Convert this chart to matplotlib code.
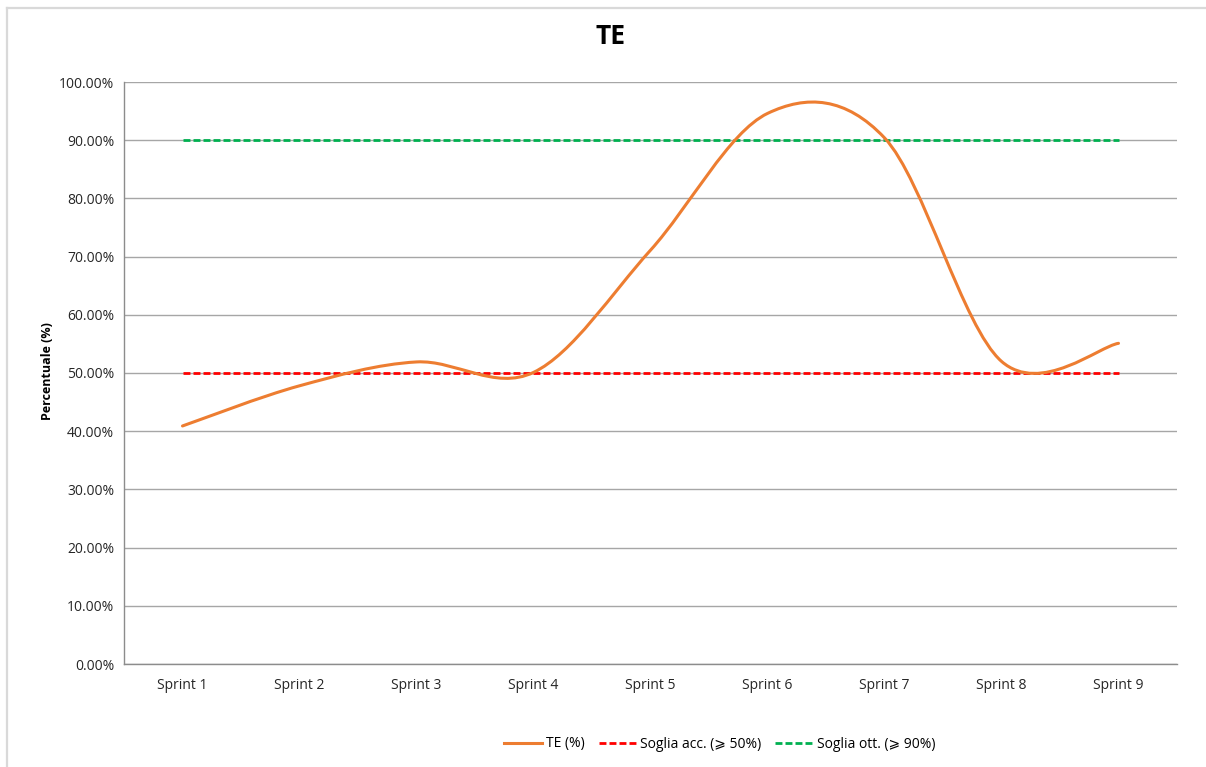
import matplotlib
matplotlib.use("Agg")
import matplotlib.pyplot as plt
from matplotlib.path import Path
from matplotlib.patches import PathPatch
from matplotlib.lines import Line2D
from matplotlib.ticker import FuncFormatter
import numpy as np

plt.rcParams['font.family'] = ['Open Sans', 'DejaVu Sans']

# Data
sprints = ["Sprint 1", "Sprint 2", "Sprint 3", "Sprint 4", "Sprint 5",
           "Sprint 6", "Sprint 7", "Sprint 8", "Sprint 9"]
te_values = [40.9, 47.8, 51.9, 50.1, 71.1, 94.6, 90.4, 52.0, 55.1]
soglia_acc = [50, 50, 50, 50, 50, 50, 50, 50, 50]
soglia_ott = [90, 90, 90, 90, 90, 90, 90, 90, 90]

ORANGE = '#ED7D31'
RED = '#FF0000'
GREEN = '#00B050'
GRID = '#a6a6a6'


# Excel-style smoothed line: cubic bezier through the points
def smooth_path(xs, ys):
    pts = np.column_stack([xs, ys]).astype(float)
    n = len(pts)
    verts = [pts[0]]
    codes = [Path.MOVETO]
    for i in range(n - 1):
        p_prev = pts[max(i - 1, 0)]
        p_next2 = pts[min(i + 2, n - 1)]
        c1 = pts[i] + (pts[i + 1] - p_prev) / 6.0
        c2 = pts[i + 1] - (p_next2 - pts[i]) / 6.0
        verts += [c1, c2, pts[i + 1]]
        codes += [Path.CURVE4] * 3
    return Path(verts, codes)


W, H = 1206, 767
fig = plt.figure(figsize=(W / 100, H / 100), dpi=100)
ax = fig.add_axes([124 / W, 1 - 664 / H, (1177 - 124) / W, (664 - 82) / H])

x = np.arange(len(sprints))

ax.plot(x, soglia_acc, color=RED, lw=2, dashes=(2.5, 1.1), zorder=3)
ax.plot(x, soglia_ott, color=GREEN, lw=2, dashes=(2.5, 1.1), zorder=3)
ax.add_patch(PathPatch(smooth_path(x, te_values), facecolor='none',
                       edgecolor=ORANGE, lw=2.2, capstyle='round', zorder=4))

ax.set_xlim(-0.5, len(sprints) - 0.5)
ax.set_ylim(0, 100)
ax.set_yticks(np.arange(0, 101, 10))
ax.yaxis.set_major_formatter(FuncFormatter(lambda v, p: f"{v:.2f}%"))
ax.set_xticks(x)
ax.set_xticklabels(sprints)
ax.tick_params(axis='both', length=0, labelsize=10, colors='#262626')
ax.tick_params(axis='y', pad=7)
ax.tick_params(axis='x', pad=10)
ax.grid(axis='y', color=GRID, lw=1)
ax.set_axisbelow(True)
for side in ['top', 'right']:
    ax.spines[side].set_visible(False)
for side in ['left', 'bottom']:
    ax.spines[side].set_color('#8c8c8c')
    ax.spines[side].set_linewidth(1)

# Title and axis label
fig.text(611 / W, 1 - 37 / H, "TE", ha='center', va='center',
         fontsize=19, fontweight='bold', color='black')
fig.text(47 / W, 1 - 371 / H, "Percentuale (%)", ha='center', va='center',
         rotation=90, fontsize=9, fontweight='bold', color='black')

# Legend
handles = [Line2D([], [], color=ORANGE, lw=2.2),
           Line2D([], [], color=RED, lw=2, dashes=(2.5, 1.1)),
           Line2D([], [], color=GREEN, lw=2, dashes=(2.5, 1.1))]
labels = ["TE (%)", "Soglia acc. (⩾ 50%)", "Soglia ott. (⩾ 90%)"]
fig.legend(handles, labels, loc='center', bbox_to_anchor=(720 / W, 1 - 744 / H),
           ncol=3, frameon=False, fontsize=10, handlelength=2.7,
           handletextpad=0.3, columnspacing=1.0)

# Chart frame (light gray, left and top visible)
fig.add_artist(Line2D([7 / W, 7 / W], [0, 1 - 8 / H], color='#d9d9d9', lw=1.6,
                      transform=fig.transFigure))
fig.add_artist(Line2D([7 / W, 1], [1 - 8 / H, 1 - 8 / H], color='#d9d9d9', lw=1.6,
                      transform=fig.transFigure))

fig.savefig("out.png", dpi=100, facecolor='white')
